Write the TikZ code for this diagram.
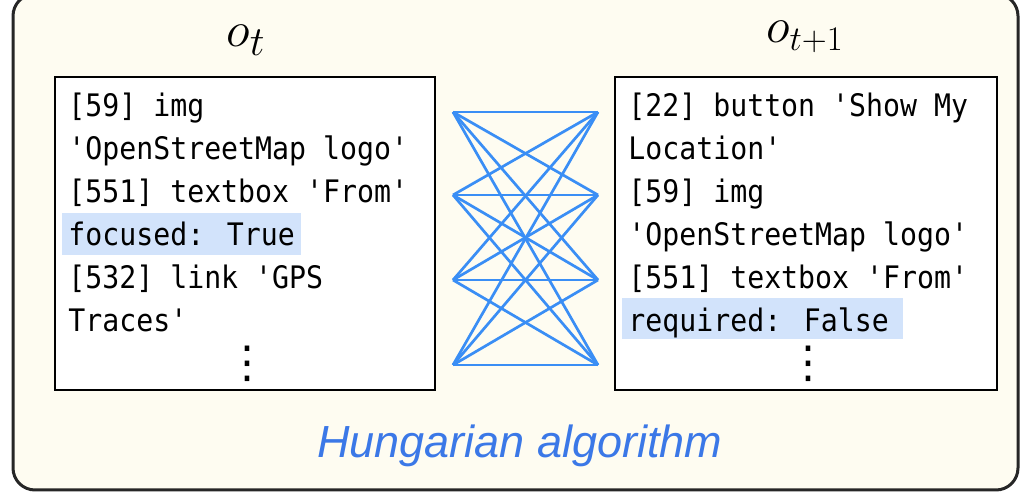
\documentclass[tikz,border=0pt]{standalone}
\usepackage{fontspec}
\newfontfamily\boxmono[FakeStretch=0.91]{DejaVu Sans Mono}
\newfontfamily\capfont{Liberation Sans}
\newfontfamily\dotfont{DejaVu Sans}
\definecolor{cream}{RGB}{254,252,241}
\definecolor{hl}{RGB}{210,227,251}
\definecolor{edgeblue}{RGB}{58,142,245}
\definecolor{capblue}{RGB}{59,120,231}
\tikzset{
  outerbox/.style={draw=black!85, line width=1.5pt, fill=cream, rounded corners=11pt},
  obsbox/.style={draw=black, line width=1.4pt, fill=white},
  obsline/.style={inner sep=0pt, anchor=base west, font=\boxmono\fontsize{15.5}{18}\selectfont},
  dotsnode/.style={inner sep=0pt, anchor=center, font=\dotfont\fontsize{22}{24}\selectfont},
  hlbox/.style={fill=hl},
  edge/.style={draw=edgeblue, line width=1.35pt},
  title/.style={inner sep=0pt, anchor=base},
}
\begin{document}
\begin{tikzpicture}[x=0.5pt,y=-0.5pt]
\useasboundingbox (0,0) rectangle (1024,502);
\draw[outerbox] (13,-6) rectangle (1018,490);
% observation boxes
\draw[obsbox] (55,77) rectangle (435,390);
\draw[obsbox] (615,77) rectangle (997,390);
% highlights
\fill[hlbox] (62,213) rectangle (301,255);
\fill[hlbox] (622,298) rectangle (903,339);
% titles
\node[title, font=\fontsize{28}{32}\selectfont] (ot) at (246,47) {$o_t$};
\node[title, font=\fontsize{25}{30}\selectfont] (ot1) at (805,43) {$o_{t+1}$};
% left lines
\node[obsline] (L1) at (68,117) {[59] img};
\node[obsline] (L2) at (68,160) {'OpenStreetMap logo'};
\node[obsline] (L3) at (68,203) {[551] textbox 'From'};
\node[obsline] (L4) at (68,246) {focused: True};
\node[obsline] (L5) at (68,289) {[532] link 'GPS};
\node[obsline] (L6) at (68,332) {Traces'};
\node[dotsnode] (Ld) at (247,364) {⋮};
% right lines
\node[obsline] (R1) at (628,117) {[22] button 'Show My};
\node[obsline] (R2) at (628,160) {Location'};
\node[obsline] (R3) at (628,203) {[59] img};
\node[obsline] (R4) at (628,246) {'OpenStreetMap logo'};
\node[obsline] (R5) at (628,289) {[551] textbox 'From'};
\node[obsline] (R6) at (628,332) {required: False};
\node[dotsnode] (Rd) at (808,364) {⋮};
% bipartite graph
\coordinate (a1) at (453,112);
\coordinate (a2) at (453,195);
\coordinate (a3) at (453,280);
\coordinate (a4) at (453,365);
\coordinate (b1) at (598,112);
\coordinate (b2) at (598,195);
\coordinate (b3) at (598,280);
\coordinate (b4) at (598,365);
\foreach \i in {1,...,4}{
  \foreach \j in {1,...,4}{
    \draw[edge] (a\i) -- (b\j);
  }
}
% caption
\node[title, text=capblue, font=\capfont\itshape\fontsize{22.5}{26}\selectfont] (cap) at (520,458) {Hungarian algorithm};
\end{tikzpicture}
\end{document}
